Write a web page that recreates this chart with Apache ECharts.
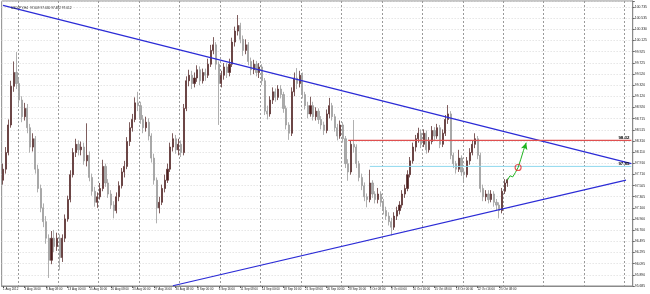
<!DOCTYPE html>
<html><head><meta charset="utf-8">
<script src="https://cdn.jsdelivr.net/npm/echarts/dist/echarts.min.js"></script>
<style>html,body{margin:0;padding:0;background:#fff;overflow:hidden}#c{width:650px;height:294px}</style>
</head><body><div id="c"></div>
<script>
const titleText = 'USDJPY,H4  97.609 97.630 97.482 97.612';
const xTickLabels = ['1 Aug 2012','3 Aug 16:00','8 Aug 08:00','13 Aug 00:00','15 Aug 16:00','20 Aug 08:00','23 Aug 00:00','27 Aug 16:00','30 Aug 08:00','4 Sep 00:00','6 Sep 16:00','11 Sep 08:00','14 Sep 00:00','18 Sep 16:00','21 Sep 08:00','26 Sep 00:00','28 Sep 16:00','3 Oct 08:00','8 Oct 00:00','10 Oct 16:00','15 Oct 08:00','18 Oct 00:00','22 Oct 16:00','25 Oct 08:00'];
const yTickLabels = ['95.685','95.890','96.095','96.295','96.495','96.700','96.900','97.100','97.305','97.505','97.710','97.910','98.110','98.310','98.515','98.715','98.920','99.120','99.320','99.520','99.725','99.925','100.125','100.330','100.535','100.735'];
const yMin = 95.685, yMax = 100.844, yStep = 0.202;
const categoryCount = 234;

const open = [97.60,97.80,98.10,98.60,99.30,99.55,99.35,99.05,98.75,98.90,
98.55,98.20,98.35,97.80,97.45,97.10,96.85,96.55,96.15,96.55,
96.40,96.55,96.20,96.55,96.90,97.25,97.70,98.10,98.25,98.15,
98.20,97.95,98.05,97.65,97.40,97.20,97.30,97.45,97.85,97.55,
97.35,97.15,97.05,97.30,97.50,97.75,97.85,98.30,98.55,98.70,
99.00,98.95,98.70,98.55,98.65,98.40,98.00,97.60,97.10,97.20,
97.45,97.60,97.80,98.20,98.35,98.15,98.25,98.10,98.90,99.40,
99.50,99.35,99.45,99.60,99.40,99.55,99.50,99.70,99.95,100.05,
99.70,99.35,99.50,99.65,99.55,99.70,100.10,100.30,100.40,100.15,
99.95,100.05,99.75,99.60,99.70,99.55,99.65,99.40,98.85,98.80,
99.05,99.20,99.10,99.25,99.15,98.90,98.60,98.45,99.20,99.45,
99.35,99.50,99.15,98.95,98.80,98.95,98.75,98.85,98.70,98.60,
98.50,98.80,98.95,98.75,98.55,98.40,98.60,98.35,97.90,97.75,
98.25,98.20,97.90,97.65,97.50,97.30,97.25,97.55,97.35,97.25,
97.35,97.20,97.05,96.95,96.85,96.75,96.95,97.05,97.15,97.35,
97.45,97.70,97.95,98.20,98.35,98.45,98.25,98.45,98.15,98.30,
98.50,98.40,98.55,98.25,98.45,98.70,98.80,98.05,97.90,97.80,
98.00,97.75,97.70,97.95,98.10,98.25,98.35,98.05,97.45,97.30,
97.35,97.25,97.35,97.20,97.15,97.05,97.40,97.55];
const close = [97.80,98.10,98.60,99.30,99.55,99.35,99.05,98.75,98.90,98.55,
98.20,98.35,97.80,97.45,97.10,96.85,96.55,96.15,96.55,96.40,
96.55,96.20,96.55,96.90,97.25,97.70,98.10,98.25,98.15,98.20,
97.95,98.05,97.65,97.40,97.20,97.30,97.45,97.85,97.55,97.35,
97.15,97.05,97.30,97.50,97.75,97.85,98.30,98.55,98.70,99.00,
98.95,98.70,98.55,98.65,98.40,98.00,97.60,97.10,97.20,97.45,
97.60,97.80,98.20,98.35,98.15,98.25,98.10,98.90,99.40,99.50,
99.35,99.45,99.60,99.40,99.55,99.50,99.70,99.95,100.05,99.70,
99.35,99.50,99.65,99.55,99.70,100.10,100.30,100.40,100.15,99.95,
100.05,99.75,99.60,99.70,99.55,99.65,99.40,98.85,98.80,99.05,
99.20,99.10,99.25,99.15,98.90,98.60,98.45,99.20,99.45,99.35,
99.50,99.15,98.95,98.80,98.95,98.75,98.85,98.70,98.60,98.50,
98.80,98.95,98.75,98.55,98.40,98.60,98.35,97.90,97.75,98.25,
98.20,97.90,97.65,97.50,97.30,97.25,97.55,97.35,97.25,97.35,
97.20,97.05,96.95,96.85,96.75,96.95,97.05,97.15,97.35,97.45,
97.70,97.95,98.20,98.35,98.45,98.25,98.45,98.15,98.30,98.50,
98.40,98.55,98.25,98.45,98.70,98.80,98.05,97.90,97.80,98.00,
97.75,97.70,97.95,98.10,98.25,98.35,98.05,97.45,97.30,97.35,
97.25,97.35,97.20,97.15,97.05,97.40,97.55,97.61];
const low = [97.52,97.72,98.05,98.55,99.20,99.25,98.95,98.65,98.68,98.45,
98.10,98.12,97.72,97.38,97.02,96.75,96.45,95.83,96.08,96.30,
96.32,95.97,96.12,96.48,96.85,97.20,97.65,98.02,98.05,98.05,
97.88,97.85,97.58,97.32,97.12,97.10,97.25,97.40,97.48,97.28,
97.08,96.91,97.00,97.22,97.45,97.65,97.80,98.22,98.48,98.65,
98.85,98.62,98.45,98.48,98.32,97.92,97.52,96.82,97.00,97.15,
97.38,97.55,97.75,98.12,98.08,98.05,98.02,98.05,98.85,99.30,
99.25,99.28,99.38,99.32,99.35,99.40,99.45,99.65,99.88,99.60,
98.60,99.28,99.42,99.45,99.48,99.65,100.02,100.22,100.08,99.85,
99.88,99.68,99.50,99.52,99.48,99.45,99.32,98.78,98.70,98.75,
98.98,99.02,99.05,99.08,98.82,98.52,98.33,98.40,99.12,99.25,
99.28,99.08,98.88,98.72,98.75,98.68,98.68,98.62,98.52,98.42,
98.45,98.72,98.68,98.48,98.32,98.35,98.28,97.82,97.59,97.70,
98.10,97.82,97.58,97.42,97.22,97.11,97.20,97.28,97.18,97.18,
97.12,96.98,96.88,96.78,96.60,96.70,96.88,96.98,97.10,97.28,
97.40,97.65,97.90,98.12,98.28,98.18,98.20,98.08,98.10,98.25,
98.32,98.35,98.18,98.20,98.40,98.62,97.98,97.82,97.72,97.75,
97.68,97.55,97.65,97.88,98.05,98.18,97.98,97.38,97.22,97.22,
97.18,97.20,97.12,97.05,96.91,97.00,97.35,97.48];
const high = [97.90,98.20,98.70,99.40,99.75,99.92,99.45,99.12,99.00,98.98,
98.62,98.45,98.40,97.88,97.52,97.18,96.95,96.62,96.68,96.70,
96.65,96.62,96.62,96.98,97.32,97.78,98.18,98.35,98.32,98.30,
98.28,98.63,98.12,97.72,97.48,97.38,97.55,97.97,97.90,97.62,
97.42,97.22,97.38,97.58,97.82,97.95,98.38,98.65,98.80,99.10,
99.20,99.02,98.78,98.75,98.72,98.45,98.08,97.65,97.30,97.52,
97.70,97.90,98.28,98.45,98.42,98.35,98.32,98.98,99.48,99.60,
99.58,99.55,99.68,99.66,99.62,99.62,99.80,100.05,100.19,100.10,
99.75,99.58,99.72,99.72,99.80,100.18,100.38,100.59,100.45,100.22,
100.15,100.10,99.82,99.78,99.76,99.72,99.70,99.45,98.95,99.12,
99.28,99.26,99.32,99.32,99.20,98.95,98.65,99.28,99.55,99.63,
99.58,99.55,99.20,99.02,99.11,99.02,98.92,98.90,98.76,98.66,
98.88,99.09,99.00,98.80,98.62,98.68,98.65,98.40,97.98,98.32,
98.69,98.25,97.95,97.72,97.56,97.36,97.79,97.60,97.40,97.46,
97.40,97.26,97.12,97.02,96.92,97.02,97.12,97.22,97.42,97.52,
97.78,98.02,98.28,98.42,98.55,98.52,98.52,98.50,98.38,98.58,
98.56,98.62,98.60,98.52,98.78,98.96,98.85,98.10,97.95,98.15,
98.05,97.82,98.02,98.18,98.32,98.45,98.40,98.10,97.52,97.42,
97.42,97.42,97.40,97.26,97.20,97.46,97.62,97.63];
const lastPrice = 97.612;

const upperTrend = [[0, 100.766], [233, 97.90]];
const lowerTrend = [[63, 95.69], [231, 97.60]];
const resistance = [[128, 98.32], [233, 98.32]];
const resistanceLabel = '98.32';
const support = [[136, 97.85], [233, 97.85]];
const supportLabel = '97.85';
const projection = [[187, 97.60], [188, 97.68], [189, 97.66], [190, 97.74], [191, 97.83], [192, 97.98], [193, 98.14], [194, 98.28]];
const projectionCircle = [[191, 97.83]];

const categories = Array.from({length: categoryCount}, (_, i) => 'b' + i);
const candles = open.map((o, i) => [o, close[i], low[i], high[i]]);
const labelEvery = 8, gridEvery = 15, gridOffset = 6;
const FONT = 'Liberation Sans';
const HIDDEN = {color: 'rgba(0,0,0,0)', borderWidth: 0};

function levelSeries(pts, color, width, text) {
  const d = pts.map((p, i) => i === pts.length - 1 && text ? {
    value: p,
    label: {show: true, formatter: text, position: 'top', align: 'right', distance: 1, offset: [-2, 0],
      color: '#000', fontSize: 4.4, fontWeight: 'bold', fontFamily: FONT}
  } : p);
  return {type: 'line', data: d, symbol: 'circle', symbolSize: 0.1, showSymbol: true, connectNulls: true, silent: true,
    itemStyle: HIDDEN, lineStyle: {color: color, width: width}, z: 5, label: {show: false}};
}

const chart = echarts.init(document.getElementById('c'), null, {renderer: 'canvas'});
chart.setOption({
  animation: false,
  backgroundColor: '#ffffff',
  title: {text: titleText, left: 6, top: 2, textStyle: {fontSize: 3.2, fontWeight: 'normal', color: '#222', fontFamily: FONT}},
  grid: {left: 1, right: 14, top: 1, bottom: 8, show: true, borderColor: '#8a8a8a', borderWidth: 1, backgroundColor: '#fff'},
  xAxis: {
    type: 'category', data: categories, boundaryGap: true,
    axisLine: {show: true, lineStyle: {color: '#8a8a8a', width: 1}},
    axisTick: {show: true, length: 2, alignWithLabel: true, lineStyle: {color: '#666'},
      interval: (i) => i % labelEvery === 0 && i / labelEvery < xTickLabels.length},
    axisLabel: {show: true, fontSize: 3, color: '#222', fontFamily: FONT, margin: 2, align: 'left',
      interval: (i) => i % labelEvery === 0 && i / labelEvery < xTickLabels.length,
      formatter: (v, i) => xTickLabels[i / labelEvery] || ''},
    splitLine: {show: true, interval: (i) => i >= gridOffset && (i - gridOffset) % gridEvery === 0,
      lineStyle: {color: '#9a9a9a', type: [2, 2], width: 1}}
  },
  yAxis: {
    type: 'value', position: 'right', min: yMin, max: yMax, interval: yStep, scale: true,
    axisLine: {show: true, lineStyle: {color: '#8a8a8a'}},
    axisTick: {show: true, length: 2, lineStyle: {color: '#666'}},
    axisLabel: {show: true, fontSize: 3.4, color: '#222', fontFamily: FONT, margin: 2,
      formatter: (v) => { const k = Math.round((v - yMin) / yStep); return yTickLabels[k] || ''; }},
    splitLine: {show: true, lineStyle: {color: '#d9d9d9', type: [1, 2], width: 1}}
  },
  series: [
    {
      type: 'candlestick', data: candles, barWidth: 1.6, silent: true,
      itemStyle: {color: '#4b1d1d', color0: '#ababab', borderColor: '#5e3434', borderColor0: '#9c9c9c', borderWidth: 0.8},
      markLine: {
        silent: true, symbol: 'none', animation: false,
        lineStyle: {opacity: 0},
        label: {show: true, position: 'end', distance: 1, formatter: () => lastPrice.toFixed(3),
          backgroundColor: '#000', color: '#fff', fontSize: 3.4, fontFamily: FONT, padding: [1, 1, 0.5, 1]},
        data: [{yAxis: lastPrice}]
      },
      z: 3
    },
    levelSeries(upperTrend, '#2b2bd6', 1.2),
    levelSeries(lowerTrend, '#2b2bd6', 1.2),
    levelSeries(resistance, '#e05050', 1.2, resistanceLabel),
    levelSeries(support, '#8fd8ee', 1, supportLabel),
    {
      type: 'line', silent: true, symbol: 'circle', symbolSize: 0.1, showSymbol: true, itemStyle: HIDDEN,
      lineStyle: {color: '#1fb31f', width: 1}, z: 6,
      data: projection.map((p, i) => i === projection.length - 1 ? {value: p, symbol: 'arrow', symbolSize: [5, 7], symbolRotate: -17, itemStyle: {color: '#1fb31f'}} : p)
    },
    {
      type: 'scatter', silent: true, data: projectionCircle, symbol: 'circle', symbolSize: 6, z: 7,
      itemStyle: {color: 'rgba(255,255,255,0)', borderColor: '#e03030', borderWidth: 1.2}
    }
  ]
});
</script></body></html>
